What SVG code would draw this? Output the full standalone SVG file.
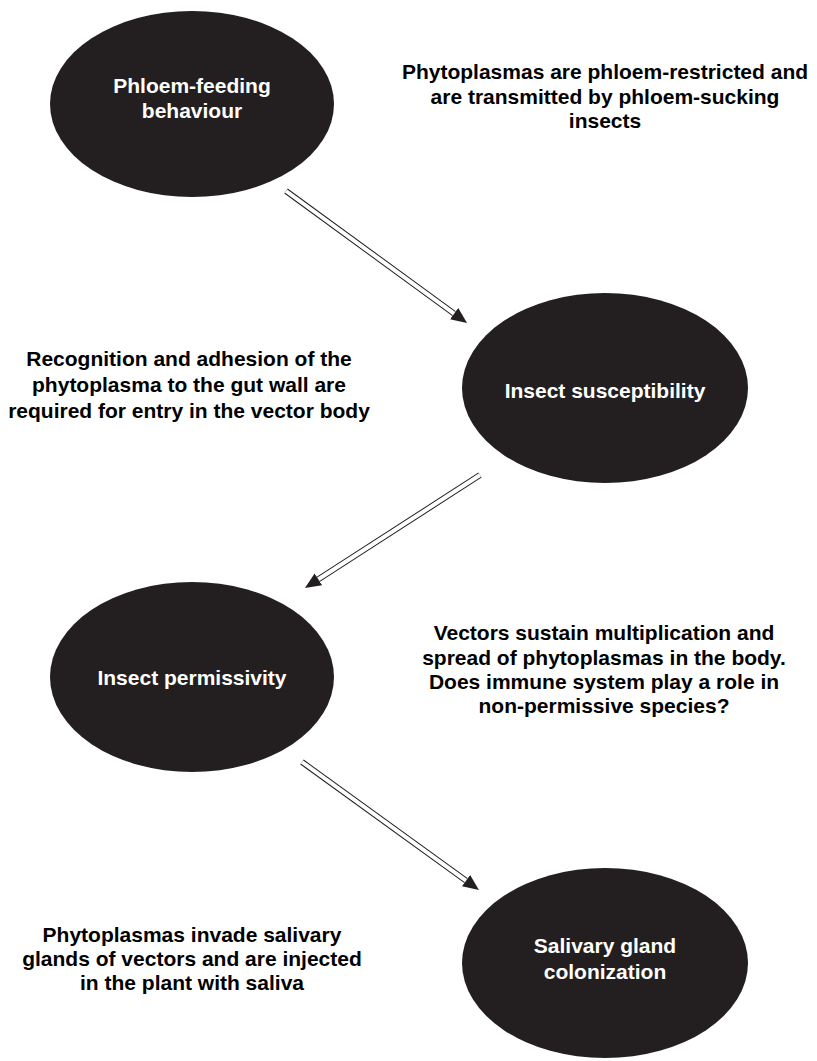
<svg xmlns="http://www.w3.org/2000/svg" width="817" height="1061" viewBox="0 0 817 1061">
<style>
.node{fill:#231f20}
.nt{font-family:"Liberation Sans",Arial,sans-serif;font-weight:bold;font-size:21px;fill:#ffffff;text-anchor:middle}
.lt{font-family:"Liberation Sans",Arial,sans-serif;font-weight:bold;font-size:21px;fill:#000000;text-anchor:middle}
.sh-o{stroke:#231f20;stroke-width:6;fill:none}
.sh-i{stroke:#ffffff;stroke-width:4;fill:none}
</style>
<defs>
<marker id="head" viewBox="0 0 16 14" refX="0" refY="7" markerWidth="16" markerHeight="14" markerUnits="userSpaceOnUse" orient="auto">
<path d="M0,0 L16,7 L0,14 z" fill="#231f20"/>
</marker>
</defs>
<rect width="817" height="1061" fill="#ffffff"/>
<g id="n1">
<ellipse class="node" cx="192" cy="104" rx="142" ry="93"/>
<text class="nt" x="192" y="93">Phloem-feeding</text>
<text class="nt" x="192" y="118">behaviour</text>
</g>
<g id="n2">
<ellipse class="node" cx="605" cy="388" rx="143" ry="95"/>
<text class="nt" x="605" y="398">Insect susceptibility</text>
</g>
<g id="n3">
<ellipse class="node" cx="192" cy="677" rx="142" ry="95"/>
<text class="nt" x="192" y="685">Insect permissivity</text>
</g>
<g id="n4">
<ellipse class="node" cx="605" cy="963" rx="143" ry="95"/>
<text class="nt" x="605" y="953">Salivary gland</text>
<text class="nt" x="605" y="979">colonization</text>
</g>
<g id="labels">
<text class="lt" x="605" y="79">Phytoplasmas are phloem-restricted and</text>
<text class="lt" x="605" y="104">are transmitted by phloem-sucking</text>
<text class="lt" x="605" y="128">insects</text>
<text class="lt" x="189" y="366">Recognition and adhesion of the</text>
<text class="lt" x="189" y="392">phytoplasma to the gut wall are</text>
<text class="lt" x="189" y="418">required for entry in the vector body</text>
<text class="lt" x="604" y="640">Vectors sustain multiplication and</text>
<text class="lt" x="604" y="665">spread of phytoplasmas in the body.</text>
<text class="lt" x="604" y="689">Does immune system play a role in</text>
<text class="lt" x="604" y="713">non-permissive species?</text>
<text class="lt" x="192" y="942">Phytoplasmas invade salivary</text>
<text class="lt" x="192" y="966">glands of vectors and are injected</text>
<text class="lt" x="192" y="990">in the plant with saliva</text>
</g>
<g id="connectors">
<line class="sh-o" x1="286" y1="191" x2="454.1" y2="313.6" marker-end="url(#head)"/>
<line class="sh-i" x1="286" y1="191" x2="454.1" y2="313.6"/>
<line class="sh-o" x1="480" y1="475" x2="318.4" y2="579.3" marker-end="url(#head)"/>
<line class="sh-i" x1="480" y1="475" x2="318.4" y2="579.3"/>
<line class="sh-o" x1="302" y1="762" x2="466" y2="880.6" marker-end="url(#head)"/>
<line class="sh-i" x1="302" y1="762" x2="466" y2="880.6"/>
</g>
</svg>
